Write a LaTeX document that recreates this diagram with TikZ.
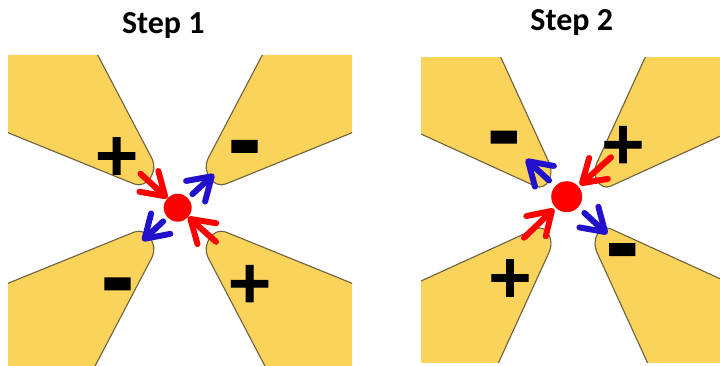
\documentclass[tikz,border=0pt]{standalone}
\usepackage{fontspec}
\setmainfont{Carlito}
\newfontfamily\signfont[FakeBold=2]{DejaVu Sans Bold}
\usetikzlibrary{arrows.meta}
\definecolor{padfill}{HTML}{F9D35A}
\definecolor{padline}{HTML}{6E6040}
\definecolor{chargeblue}{HTML}{2211CC}
\definecolor{chargered}{HTML}{FF0000}
\tikzset{
  pad/.style={fill=padfill, draw=padline, line width=1.1pt, line join=round},
  % electrode of the first panel, drawn as the upper left one
  padA/.pic={\path[pad] (-190,-173.6) -- (-93.1,-173.6) -- (-28,-49.4)
      .. controls (-21.5,-37.0) and (-33.0,-18.8) .. (-46,-24.1)
      -- (-190,-82.6) -- cycle;},
  % electrode of the second panel, drawn as the upper left one
  padB/.pic={\path[pad] (-170,-171.2) -- (-81.8,-171.2) -- (-23.8,-44.5)
      .. controls (-18.3,-32.7) and (-26.2,-16.1) .. (-38,-21.5)
      -- (-170,-81.7) -- cycle;},
  particle/.style={circle, fill=chargered, inner sep=0pt, outer sep=0pt},
  pull/.style={draw=chargered, line width=6pt, line cap=round,
      -{Straight Barb[length=22pt,width=28pt,round]}},
  push/.style={draw=chargeblue, line width=6pt, line cap=round,
      -{Straight Barb[length=22pt,width=28pt,round]}},
  title/.style={font=\bfseries\fontsize{32}{38}\selectfont, anchor=base, inner sep=0pt},
  plussign/.style={font=\signfont\fontsize{58}{62}\selectfont, inner sep=0pt},
  minussign/.style={font=\signfont\fontsize{80}{84}\selectfont, inner sep=0pt},
}
\begin{document}
\begin{tikzpicture}[x=1pt, y=-1pt]
\useasboundingbox[fill=white] (0,0) rectangle (720,365);

% ---------- Step 1 ----------
\begin{scope}
  \clip (8,55) rectangle (352,365);
  \pic at (180,208) {padA};
  \pic[xscale=-1] at (180,208) {padA};
  \pic[yscale=-1] at (180,208) {padA};
  \pic[xscale=-1,yscale=-1] at (180,208) {padA};
\end{scope}
\node[title] (t1) at (163.3,33.3) {Step 1};
\node[plussign]  (s1a) at (116.6,156) {+};
\node[minussign] (s1b) at (244.5,155) {-};
\node[minussign] (s1c) at (117.5,292.5) {-};
\node[plussign]  (s1d) at (249.7,283.7) {+};

\node[particle, minimum size=28pt] (d1) at (177.7,207.7) {};
\coordinate (r1a) at (140.5,173.7);
\coordinate (r1b) at (216,241.8);
\coordinate (b1a) at (214,174.3);
\coordinate (b1b) at (142.5,240.8);
\draw[pull] (r1a) -- (d1);
\draw[pull] (r1b) -- (d1);
\draw[push, shorten <=6pt] (d1) -- (b1a);
\draw[push, shorten <=6pt] (d1) -- (b1b);

% ---------- Step 2 ----------
\begin{scope}
  \clip (421,57.7) rectangle (720,362.7);
  \pic at (573,207.5) {padB};
  \pic[xscale=-1] at (573,207.5) {padB};
  \pic[yscale=-1] at (573,207.5) {padB};
  \pic[xscale=-1,yscale=-1] at (573,207.5) {padB};
\end{scope}
\node[title] (t2) at (571.7,30.3) {Step 2};
\node[minussign] (s2a) at (503.7,145.8) {-};
\node[plussign]  (s2b) at (623,144.7) {+};
\node[plussign]  (s2c) at (510,278) {+};
\node[minussign] (s2d) at (622.3,258.3) {-};

\node[particle, minimum size=31pt] (d2) at (566.7,196.7) {};
\coordinate (r2a) at (611,157.3);
\coordinate (r2b) at (524,237.7);
\coordinate (b2a) at (526,159.3);
\coordinate (b2b) at (607.3,234);
\draw[pull, shorten >=2pt] (r2a) -- (d2);
\draw[pull, shorten >=2pt] (r2b) -- (d2);
\draw[push, shorten <=8.5pt] (d2) -- (b2a);
\draw[push, shorten <=8.5pt] (d2) -- (b2b);
\end{tikzpicture}
\end{document}
